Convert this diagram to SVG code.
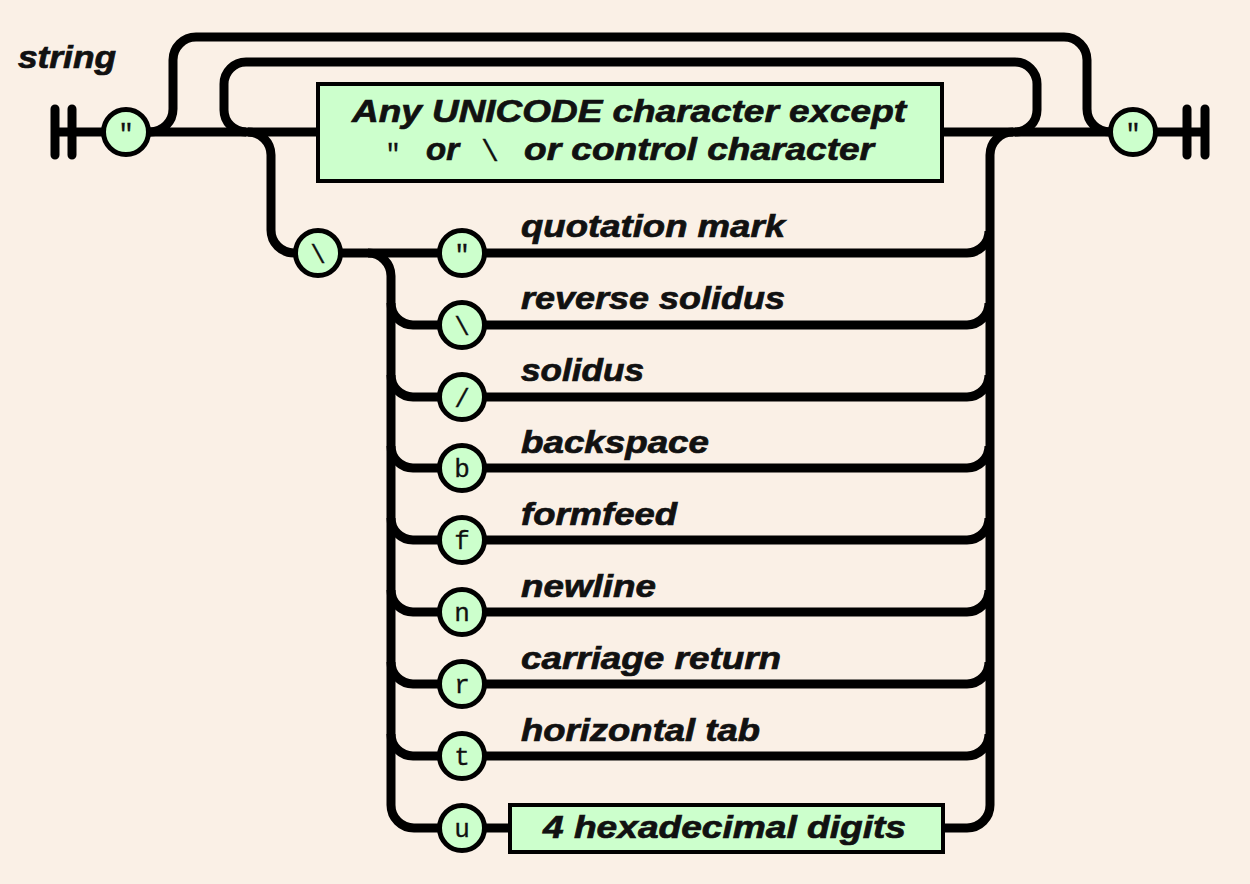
<svg xmlns="http://www.w3.org/2000/svg" width="1250" height="884" viewBox="0 0 1250 884">
<style>
.bg{fill:#FAF0E6}
.ln{fill:none;stroke:#000;stroke-width:9}
.bar{fill:none;stroke:#000;stroke-width:9;stroke-linecap:round}
.ci{fill:#CCFFCC;stroke:#000;stroke-width:5}
.bx{fill:#CCFFCC;stroke:#000;stroke-width:4}
.lb{font-family:"Liberation Sans",Arial,sans-serif;font-weight:bold;font-style:italic;font-size:31px;fill:#111;stroke:#111;stroke-width:0.7}
.mo{font-family:"Liberation Mono","Courier New",monospace;font-size:26px;fill:#111;text-anchor:middle;stroke:#111;stroke-width:0.3}
</style>
<rect class="bg" x="0" y="0" width="1250" height="884"/>
<g id="connectors">
<path class="ln" d="M55,132 H103"/>
<path class="ln" d="M150,132 H318 M942,132 H1109 M1157,132 H1205"/>
<path class="ln" d="M150,132 A23,23 0 0 0 173,109 V60 A23,23 0 0 1 196,37 H1064 A23,23 0 0 1 1087,60 V109 A23,23 0 0 0 1110,132"/>
<path class="ln" d="M246,132 A22,22 0 0 1 224,110 V84 A22,22 0 0 1 246,62 H1015 A22,22 0 0 1 1037,84 V110 A22,22 0 0 1 1015,132"/>
<path class="ln" d="M248,132 A23,23 0 0 1 271,155 V230 A23,23 0 0 0 294,253 H296"/>
<path class="ln" d="M341,253 H440"/>
<path class="ln" d="M368,253 A23,23 0 0 1 391,276 V805 A23,23 0 0 0 414,828 H440"/>
<path class="ln" d="M391,303 A22,22 0 0 0 413,325 H440 M391,375 A22,22 0 0 0 413,397 H440 M391,446 A22,22 0 0 0 413,468 H440 M391,518 A22,22 0 0 0 413,540 H440 M391,590 A22,22 0 0 0 413,612 H440 M391,662 A22,22 0 0 0 413,684 H440 M391,734 A22,22 0 0 0 413,756 H440"/>
<path class="ln" d="M484,253 H967 A22,22 0 0 0 989,231 M484,325 H967 A22,22 0 0 0 989,303 M484,397 H967 A22,22 0 0 0 989,375 M484,468 H967 A22,22 0 0 0 989,446 M484,540 H967 A22,22 0 0 0 989,518 M484,612 H967 A22,22 0 0 0 989,590 M484,684 H967 A22,22 0 0 0 989,662 M484,756 H967 A22,22 0 0 0 989,734"/>
<path class="ln" d="M1013,132 A23,23 0 0 0 990,155 V805 A23,23 0 0 1 967,828 H943"/>
<path class="ln" d="M484,828 H510"/>
</g>
<text id="title" class="lb" x="18" y="68" textLength="98" lengthAdjust="spacingAndGlyphs">string</text>
<g id="start"><path class="bar" d="M55,109 V155 M72,109 V155"/></g>
<g id="end"><path class="bar" d="M1187,109 V155 M1205,109 V155"/></g>
<g id="open-quote"><circle class="ci" cx="126" cy="132" r="22.5"/><text class="mo" x="126" y="142">"</text></g>
<g id="close-quote"><circle class="ci" cx="1133" cy="132" r="22.5"/><text class="mo" x="1133" y="142">"</text></g>
<g id="any-char">
<rect class="bx" x="318" y="84" width="624" height="97"/>
<text class="lb" x="352" y="122" textLength="554" lengthAdjust="spacingAndGlyphs">Any UNICODE character except</text>
<text class="mo" x="393" y="162">"</text>
<text class="lb" x="426" y="160" textLength="33" lengthAdjust="spacingAndGlyphs">or</text>
<text class="mo" x="490" y="161" style="font-size:30px">\</text>
<text class="lb" x="524" y="160" textLength="350" lengthAdjust="spacingAndGlyphs">or control character</text>
</g>
<g id="escape"><circle class="ci" cx="318" cy="253" r="22.5"/><text class="mo" x="318" y="263">\</text></g>
<g id="esc-quote"><circle class="ci" cx="462" cy="253" r="22.5"/><text class="mo" x="462" y="263">"</text><text class="lb" x="521" y="237" textLength="264" lengthAdjust="spacingAndGlyphs">quotation mark</text></g>
<g id="esc-backslash"><circle class="ci" cx="462" cy="325" r="22.5"/><text class="mo" x="462" y="335">\</text><text class="lb" x="521" y="309" textLength="264" lengthAdjust="spacingAndGlyphs">reverse solidus</text></g>
<g id="esc-slash"><circle class="ci" cx="462" cy="397" r="22.5"/><text class="mo" x="462" y="407">/</text><text class="lb" x="521" y="381" textLength="123" lengthAdjust="spacingAndGlyphs">solidus</text></g>
<g id="esc-b"><circle class="ci" cx="462" cy="468" r="22.5"/><text class="mo" x="462" y="477">b</text><text class="lb" x="521" y="453" textLength="188" lengthAdjust="spacingAndGlyphs">backspace</text></g>
<g id="esc-f"><circle class="ci" cx="462" cy="540" r="22.5"/><text class="mo" x="462" y="549">f</text><text class="lb" x="521" y="525" textLength="156" lengthAdjust="spacingAndGlyphs">formfeed</text></g>
<g id="esc-n"><circle class="ci" cx="462" cy="612" r="22.5"/><text class="mo" x="462" y="621">n</text><text class="lb" x="521" y="597" textLength="135" lengthAdjust="spacingAndGlyphs">newline</text></g>
<g id="esc-r"><circle class="ci" cx="462" cy="684" r="22.5"/><text class="mo" x="462" y="693">r</text><text class="lb" x="521" y="669" textLength="260" lengthAdjust="spacingAndGlyphs">carriage return</text></g>
<g id="esc-t"><circle class="ci" cx="462" cy="756" r="22.5"/><text class="mo" x="462" y="765">t</text><text class="lb" x="521" y="741" textLength="239" lengthAdjust="spacingAndGlyphs">horizontal tab</text></g>
<g id="esc-u"><circle class="ci" cx="462" cy="828" r="22.5"/><text class="mo" x="462" y="837">u</text></g>
<g id="hex"><rect class="bx" x="510" y="805" width="433" height="47"/><text class="lb" x="543" y="838" textLength="363" lengthAdjust="spacingAndGlyphs">4 hexadecimal digits</text></g>
</svg>
